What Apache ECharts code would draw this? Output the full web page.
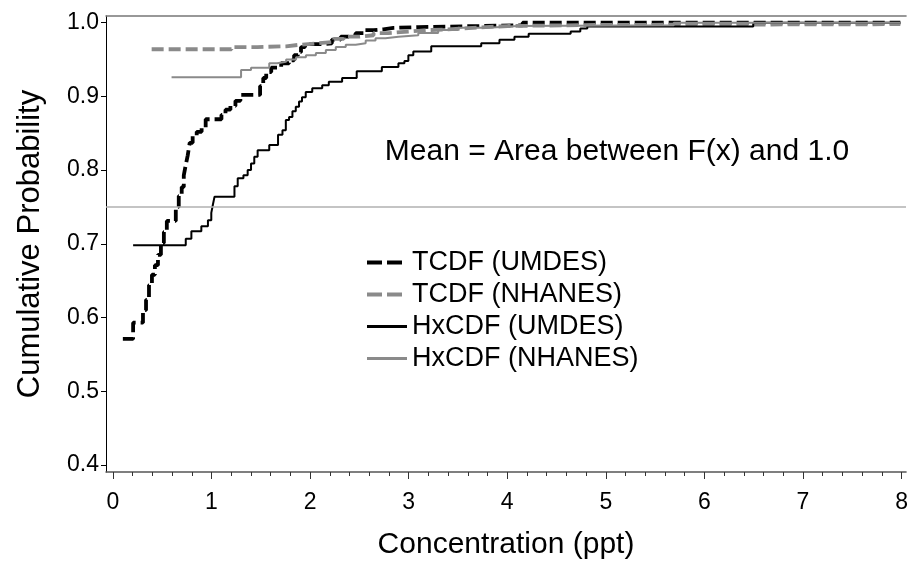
<!DOCTYPE html>
<html>
<head>
<meta charset="utf-8">
<script src="https://cdn.jsdelivr.net/npm/echarts@6/dist/echarts.min.js"></script>
<style>
html,body{margin:0;padding:0;background:#fff;}
#chart{width:911px;height:568px;}
</style>
</head>
<body>
<div id="chart"></div>
<script>
// ---- data ----
const xTickValues = [0, 1, 2, 3, 4, 5, 6, 7, 8];
const xMinorTickValues = [0.2, 0.4, 0.6, 0.8, 1.2, 1.4, 1.6, 1.8, 2.2, 2.4, 2.6, 2.8, 3.2, 3.4, 3.6, 3.8,
  4.2, 4.4, 4.6, 4.8, 5.2, 5.4, 5.6, 5.8, 6.2, 6.4, 6.6, 6.8, 7.2, 7.4, 7.6, 7.8];
const yTickValues = [0.4, 0.5, 0.6, 0.7, 0.8, 0.9, 1.0];
const seriesNames = ['TCDF (UMDES)', 'TCDF (NHANES)', 'HxCDF (UMDES)', 'HxCDF (NHANES)'];
const refLineValue = 0.75;
const annotationText = 'Mean = Area between F(x) and 1.0';

const tcdfUmdesX = [0.101,0.205,0.305,0.336,0.366,0.396,0.426,0.457,0.487,0.517,0.547,0.638,0.668,0.698,0.719,0.739,0.759,0.779,0.809,0.850,0.900,0.941,1.101,1.142,1.192,1.243,1.293,1.493,1.525,1.555,1.606,1.707,1.787,1.838,1.878,1.908,1.949,2.140,2.221,2.311,2.392,2.463,2.543,2.644,2.744,2.845,3.098,4.156,7.987];
const tcdfUmdesY = [0.571,0.593,0.610,0.624,0.644,0.658,0.671,0.685,0.701,0.716,0.731,0.750,0.765,0.777,0.793,0.807,0.820,0.837,0.846,0.852,0.857,0.869,0.875,0.882,0.887,0.894,0.902,0.914,0.925,0.933,0.939,0.945,0.949,0.956,0.960,0.967,0.971,0.972,0.977,0.981,0.983,0.986,0.990,0.991,0.993,0.994,0.9965,1.0,1.0];

const tcdfNhanesX = [0.393,1.203,1.465,1.757,1.888,2.070,2.241,2.342,2.493,2.644,2.795,2.997,3.199,3.400,3.703,4.005,4.912,7.987];
const tcdfNhanesY = [0.964,0.967,0.968,0.970,0.972,0.974,0.978,0.981,0.983,0.986,0.988,0.990,0.991,0.9935,0.9955,0.997,0.998,0.998];

const hxUmdesX = [0.205,0.739,0.796,0.897,0.964,0.998,1.014,1.031,1.233,1.266,1.324,1.367,1.401,1.434,1.468,1.586,1.675,1.720,1.754,1.787,1.821,1.855,1.888,1.918,1.956,2.022,2.123,2.190,2.325,2.473,2.728,2.896,2.957,2.997,3.047,3.229,3.736,3.921,4.073,4.217,4.643,4.741,4.812,6.495,7.987];
const hxUmdesY = [0.698,0.707,0.717,0.724,0.732,0.742,0.753,0.764,0.778,0.789,0.793,0.800,0.809,0.818,0.827,0.834,0.848,0.854,0.868,0.872,0.880,0.886,0.893,0.899,0.906,0.911,0.915,0.920,0.925,0.934,0.940,0.945,0.948,0.956,0.961,0.968,0.972,0.977,0.981,0.985,0.988,0.992,0.995,1.0,1.0];

const hxNhanesX = [0.595,1.300,1.401,1.586,1.666,1.757,1.858,1.958,2.059,2.160,2.261,2.362,2.463,2.564,2.664,2.765,2.896,3.098,3.299,3.501,3.803,4.106,5.689,7.987];
const hxNhanesY = [0.926,0.936,0.939,0.945,0.947,0.950,0.953,0.956,0.959,0.963,0.967,0.970,0.972,0.976,0.979,0.981,0.983,0.986,0.990,0.993,0.9955,0.9965,1.0,1.0];

// ---- chart ----
const FONT = '"Liberation Sans", Arial, sans-serif';
const pair = (xs, ys) => xs.map((x, i) => [x, ys[i]]);
const X_MIN = -0.07, X_MAX = 8.045, Y_MIN = 0.3904, Y_MAX = 1.0091;
const BLACK = '#000', GRAY = '#8a8a8a';

const chart = echarts.init(document.getElementById('chart'), null, {renderer: 'canvas'});

function lineSeries(name, data, color, width, dashed, extra) {
  return Object.assign({
    name: name,
    type: 'line',
    data: data,
    step: 'end',
    symbol: 'none',
    showSymbol: false,
    xAxisIndex: 0,
    yAxisIndex: 0,
    lineStyle: {color: color, width: width, type: dashed ? [12, 5] : 'solid', cap: 'butt'},
    itemStyle: {color: color},
    emphasis: {disabled: true},
    animation: false
  }, extra || {});
}

const legendStyles = [
  {color: BLACK, width: 4, type: [15, 5]},
  {color: GRAY, width: 4, type: [15, 5]},
  {color: BLACK, width: 3, type: 'solid'},
  {color: GRAY, width: 3, type: 'solid'}
];

const option = {
  animation: false,
  backgroundColor: '#fff',
  grid: {left: 106, right: 0, top: 16, bottom: 96, containLabel: false},
  xAxis: [
    {
      type: 'value', position: 'bottom', min: X_MIN, max: X_MAX,
      name: 'Concentration (ppt)', nameLocation: 'middle', nameGap: 58,
      nameTextStyle: {fontFamily: FONT, fontSize: 30, color: '#000'},
      axisLine: {show: true, onZero: false, lineStyle: {color: '#555', width: 1.5}},
      axisTick: {show: true, customValues: xTickValues, length: 7, inside: false, lineStyle: {color: '#333', width: 1}},
      axisLabel: {show: true, customValues: xTickValues, margin: 19, fontFamily: FONT, fontSize: 23, color: '#000', formatter: v => String(v)},
      splitLine: {show: false}, minorTick: {show: false}
    },
    {
      type: 'value', position: 'bottom', min: X_MIN, max: X_MAX,
      axisLine: {show: false, onZero: false},
      axisTick: {show: true, customValues: xMinorTickValues, length: 4, lineStyle: {color: '#333', width: 1}},
      axisLabel: {show: false},
      splitLine: {show: false}
    },
    {
      type: 'value', position: 'top', min: X_MIN, max: X_MAX,
      axisLine: {show: true, onZero: false, lineStyle: {color: '#777', width: 1.5}},
      axisTick: {show: false}, axisLabel: {show: false}, splitLine: {show: false}
    }
  ],
  yAxis: [{
    type: 'value', min: Y_MIN, max: Y_MAX,
    name: 'Cumulative Probability', nameLocation: 'middle', nameGap: 60, nameRotate: 90,
    nameTextStyle: {fontFamily: FONT, fontSize: 31, color: '#000'},
    axisLine: {show: true, onZero: false, lineStyle: {color: '#000', width: 1}},
    axisTick: {show: true, customValues: yTickValues, length: 5, lineStyle: {color: '#000', width: 1}},
    axisLabel: {show: true, customValues: yTickValues, margin: 7, fontFamily: FONT, fontSize: 23, color: '#000', formatter: v => v.toFixed(1)},
    splitLine: {show: false}
  }],
  legend: {
    show: true, orient: 'vertical', left: 365, top: 249, padding: 0,
    itemWidth: 40, itemHeight: 14, itemGap: 5,
    itemStyle: {opacity: 0},
    textStyle: {fontFamily: FONT, fontSize: 27, color: '#000'},
    data: seriesNames.map((n, i) => ({name: n, lineStyle: legendStyles[i], itemStyle: {opacity: 0}})),
    selectedMode: false
  },
  graphic: [{
    type: 'text', silent: true,
    style: {x: 617, y: 152, text: annotationText, align: 'center', verticalAlign: 'middle',
      font: '30px "Liberation Sans", Arial, sans-serif', fill: '#000'}
  }],
  series: [
    lineSeries(seriesNames[0], pair(tcdfUmdesX, tcdfUmdesY), BLACK, 3.8, true, {
      markLine: {
        silent: true, symbol: ['none', 'none'], label: {show: false}, animation: false,
        lineStyle: {color: '#b0b0b0', width: 1.5, type: 'solid'},
        emphasis: {disabled: true},
        data: [{yAxis: refLineValue}]
      }
    }),
    lineSeries(seriesNames[1], pair(tcdfNhanesX, tcdfNhanesY), GRAY, 3.8, true),
    lineSeries(seriesNames[2], pair(hxUmdesX, hxUmdesY), BLACK, 2, false),
    lineSeries(seriesNames[3], pair(hxNhanesX, hxNhanesY), GRAY, 2, false)
  ]
};
chart.setOption(option);
</script>
</body>
</html>
